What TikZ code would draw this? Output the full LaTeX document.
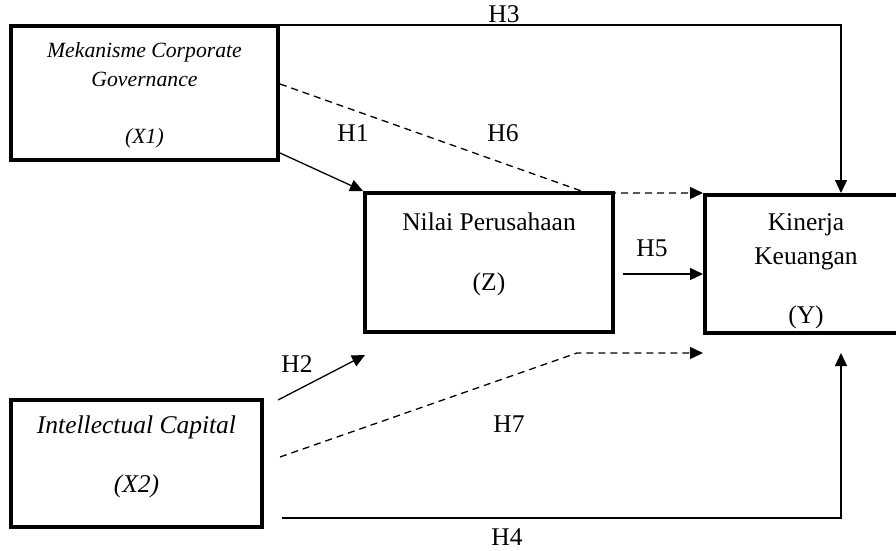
\documentclass[tikz,border=0pt]{standalone}
\usepackage{fontspec}
\setmainfont{Liberation Serif}
\usetikzlibrary{arrows.meta}
\tikzset{
  varbox/.style={draw, line width=4pt, inner sep=0pt},
  vartext/.style={anchor=north, align=center, inner sep=0pt,
    font={\fontsize{25.5}{30}\selectfont}},
  hyp/.style={inner sep=0pt, font={\fontsize{25.5}{30}\selectfont}},
  arr/.style={line width=1.3pt, -{Triangle[length=13pt,width=12pt]}},
  dasharr/.style={arr, dash pattern=on 7pt off 5pt},
}

\begin{document}
\begin{tikzpicture}[x=1pt, y=1pt]
\useasboundingbox (0,0) rectangle (896,550);
% variables
\node[varbox, minimum width=267pt, minimum height=134pt] (gov) at (144.5,457) {};
\node[varbox, minimum width=248pt, minimum height=139pt] (nilai) at (489,287.5) {};
\node[varbox, minimum width=202pt, minimum height=138pt] (kinerja) at (806,286) {};
\node[varbox, minimum width=251pt, minimum height=127pt] (ic) at (136.5,86.5) {};

\node[vartext, font={\itshape\fontsize{21.7}{29}\selectfont}] (govtext)
  at ([yshift=51]gov.center) {Mekanisme Corporate\\Governance\\[28pt](X1)};
\node[vartext] (nilaitext) at ([yshift=50]nilai.center) {Nilai Perusahaan\\[30pt](Z)};
\node[vartext, font={\fontsize{25.5}{34}\selectfont}] (kinerjatext)
  at ([yshift=51]kinerja.center) {Kinerja\\Keuangan\\[25pt](Y)};
\node[vartext, font={\itshape\fontsize{25.5}{30}\selectfont}] (ictext)
  at ([yshift=48]ic.center) {Intellectual Capital\\[29pt](X2)};

% free ends of the paths
\coordinate (h3bend) at (841,525);
\coordinate (h1start) at (280,397);
\coordinate (h6start) at (280,466);
\coordinate (h6bend) at (587,357);
\coordinate (h5start) at (623,276);
\coordinate (h2start) at (278,150);
\coordinate (h2end) at (365,195);
\coordinate (h7start) at (280,93);
\coordinate (h7bend) at (577,197);
\coordinate (h4start) at (282,32);
\coordinate (h4bend) at (841,32);
\coordinate (h4end) at (841,197);

\draw[arr] (gov.east |- h3bend) -- (h3bend) -- (h3bend |- kinerja.north);
\draw[arr] (h1start) -- (nilai.north west);
\draw[dasharr] (h6start) -- (h6bend) -- (kinerja.north west);
\draw[arr] (h5start) -- (kinerja.west |- h5start);
\draw[arr] (h2start) -- (h2end);
\draw[dasharr] (h7start) -- (h7bend) -- (kinerja.west |- h7bend);
\draw[arr] (h4start) -- (h4bend) -- (h4end);

% hypotheses
\node[hyp] (hone) at (353,417) {H1};
\node[hyp] (htwo) at (297,186) {H2};
\node[hyp] (hthree) at (504,536) {H3};
\node[hyp] (hfour) at (507,13) {H4};
\node[hyp] (hfive) at (652,302) {H5};
\node[hyp] (hsix) at (503,417) {H6};
\node[hyp] (hseven) at (509,126) {H7};
\end{tikzpicture}
\end{document}
